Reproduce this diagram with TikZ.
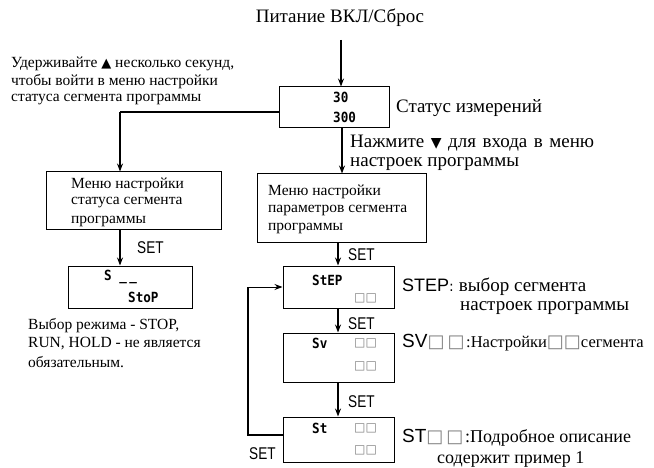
\documentclass[tikz,border=0pt]{standalone}
\usepackage{fontspec}
\setmainfont{Liberation Serif}
\newfontfamily\lsans{Liberation Sans}
\newfontfamily\nsans[FakeStretch=0.8]{Liberation Sans}
\newfontfamily\djv{DejaVu Sans}
\newfontfamily\seg[FakeStretch=0.9]{DejaVu Sans Mono}
\usetikzlibrary{arrows.meta}
\tikzset{
  box/.style={draw, line width=1pt, inner sep=0pt},
  arr/.style={-{Stealth[length=8pt,width=6pt]}, line width=1.4pt},
  ln/.style={line width=1.4pt},
  lbl/.style={anchor=west, inner sep=0pt, align=left},
  serif/.style={font=\fontsize{19}{22}\selectfont},
  small/.style={font=\fontsize{15.5}{18}\selectfont},
  boxt/.style={font=\fontsize{15.5}{18}\selectfont},
  setl/.style={anchor=west, inner sep=0pt, font=\nsans\fontsize{17}{18}\selectfont},
  segt/.style={anchor=west, inner sep=0pt, font=\seg\bfseries\fontsize{14}{14}\selectfont},
  sq/.style={anchor=west, inner sep=0pt, text=gray, font=\djv\fontsize{12}{12}\selectfont}
}
\begin{document}
\begin{tikzpicture}[x=1pt,y=-1pt]
\useasboundingbox (0,0) rectangle (654,468);
% title
\node[serif, inner sep=0pt] (title) at (340,18) {Питание ВКЛ/Сброс};
\coordinate (t0) at (341,40);
% measurement box
\node[box, minimum width=110pt, minimum height=41pt] (m) at (334,107.5) {};
\node[segt] (m1) at (333,97) {30};
\node[segt] (m2) at (333,117) {300};
\node[lbl, serif] (mlbl) at (396,108) {Статус измерений};
\draw[arr] (t0) -- (t0 |- m.north);
% press down text
\node[lbl, serif] (press) at (350,143) {\makebox[244pt][s]{Нажмите {\djv\fontsize{14}{12}\selectfont▼} для входа в меню}};
\node[lbl, serif] (press2) at (350,164) {настроек программы};
% hold up text
\node[lbl, small] (hold) at (11,64) {Удерживайте {\djv\fontsize{13}{12}\selectfont▲} несколько секунд,};
\node[lbl, small] (hold2) at (11,82) {чтобы войти в меню настройки};
\node[lbl, small] (hold3) at (11,100) {статуса сегмента программы};
% left menu box
\node[box, minimum width=175pt, minimum height=58pt] (s) at (133.5,201) {};
\node[lbl, boxt] (s1) at (71,185) {Меню настройки};
\node[lbl, boxt] (s2) at (71,203) {статуса сегмента};
\node[lbl, boxt] (s3) at (71,221) {программы};
\coordinate (lc) at (120,112);
\draw[ln] (m.west |- lc) -- (lc);
\draw[arr] (lc) -- (lc |- s.north);
% stop box
\node[box, minimum width=124pt, minimum height=42pt] (stop) at (130,287) {};
\node[segt] (stop1) at (104,277) {S \_\,\_};
\node[segt] (stop2) at (128,297) {StoP};
\draw[arr] (s.south -| lc) -- (stop.north -| lc);
\node[setl] (set1) at (137,248) {SET};
% note
\node[lbl, boxt] (n1) at (28,326) {Выбор режима - STOP,};
\node[lbl, boxt] (n2) at (28,344) {RUN, HOLD - не является};
\node[lbl, boxt] (n3) at (28,362) {обязательным.};
% parameter box
\node[box, minimum width=169pt, minimum height=69pt] (p) at (341.5,208.5) {};
\node[lbl, boxt] (p1) at (268,192) {Меню настройки};
\node[lbl, boxt] (p2) at (268,210) {параметров сегмента};
\node[lbl, boxt] (p3) at (268,228) {программы};
\coordinate (rc) at (342,0);
\draw[arr] (m.south -| rc) -- (p.north -| rc);
% step box
\node[box, minimum width=111pt, minimum height=42pt] (step) at (338.5,287) {};
\node[segt] (step1) at (312,280) {StEP};
\node[sq] (step2) at (354,298) {□□};
\coordinate (cc) at (338,0);
\draw[arr] (p.south -| cc) -- (step.north -| cc);
\node[setl] (set2) at (348,255) {SET};
\node[lbl, inner sep=0pt] (steplbl) at (402,287) {{\lsans\fontsize{18}{20}\selectfont STEP}{\djv\fontsize{14}{18}\selectfont :}\hspace{5pt}{\fontsize{19}{22}\selectfont выбор сегмента}};
\node[lbl, serif] (steplbl2) at (460,308) {настроек программы};
% sv box
\node[box, minimum width=111pt, minimum height=49pt] (sv) at (338.5,357.5) {};
\node[segt] (sv1) at (312,343) {Sv};
\node[sq] (sv2) at (354,343) {□□};
\node[sq] (sv3) at (354,366) {□□};
\draw[arr] (step.south -| cc) -- (sv.north -| cc);
\node[setl] (set3) at (348,324) {SET};
\node[lbl] (svlbl) at (402,343) {{\lsans\fontsize{19}{20}\selectfont SV}{\djv\color{gray}\fontsize{18}{18}\selectfont□\,□}\,{\fontsize{16.5}{18}\selectfont :Настройки}{\djv\color{gray}\fontsize{18}{18}\selectfont□□}{\fontsize{16.5}{18}\selectfont сегмента}};
% st box
\node[box, minimum width=111pt, minimum height=45pt] (st) at (338.5,439.5) {};
\node[segt] (st1) at (312,428) {St};
\node[sq] (st2) at (354,428) {□□};
\node[sq] (st3) at (354,450) {□□};
\draw[arr] (sv.south -| cc) -- (st.north -| cc);
\node[setl] (set4) at (348,402) {SET};
\node[lbl] (stlbl) at (402,438) {{\lsans\fontsize{19}{20}\selectfont ST}{\djv\color{gray}\fontsize{18}{18}\selectfont□\,□}\,{\fontsize{18}{20}\selectfont :Подробное описание}};
\node[lbl, font=\fontsize{18}{20}\selectfont] (stlbl2) at (437,459) {содержит пример 1};
% loop back
\coordinate (lb) at (248,435);
\draw[ln] (st.west |- lb) -- (lb) -- (lb |- step.west);
\draw[arr, line width=1pt] (lb |- step.west) -- (step.west);
\node[setl] (set5) at (249,454) {SET};
\end{tikzpicture}
\end{document}
